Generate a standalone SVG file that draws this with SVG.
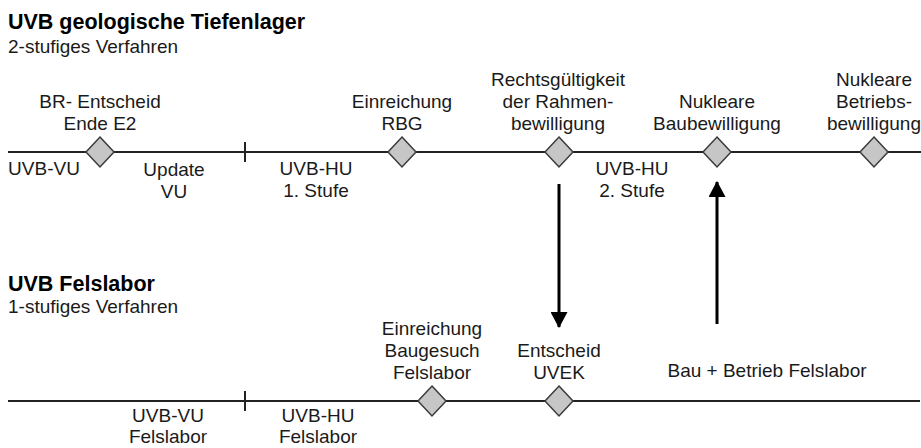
<svg xmlns="http://www.w3.org/2000/svg" width="921" height="448" viewBox="0 0 921 448">
<style>
text{font-family:"Liberation Sans",Arial,sans-serif;font-size:19px;fill:#1a1a1a}
.t{text-anchor:middle}
.h{font-weight:bold;font-size:21.5px;fill:#000}
.tl{stroke:#222;stroke-width:2;fill:none}
.tick{stroke:#222;stroke-width:2}
.dia{fill:#c6c6c6;stroke:#3a3a3a;stroke-width:1.5}
.arr{stroke:#000;stroke-width:3;fill:none}
</style>
<defs>
<marker id="ah" viewBox="0 0 16 17" refX="15" refY="8.5" markerWidth="16" markerHeight="17" markerUnits="userSpaceOnUse" orient="auto">
<path d="M0,0 L16,8.5 L0,17 Z" fill="#000"/>
</marker>
</defs>
<rect width="921" height="448" fill="#fff"/>
<g id="header-top">
<text class="h" x="8" y="29">UVB geologische Tiefenlager</text>
<text x="8" y="53">2-stufiges Verfahren</text>
</g>
<g id="header-bottom">
<text class="h" x="8" y="291">UVB Felslabor</text>
<text x="8" y="313">1-stufiges Verfahren</text>
</g>
<g id="connectors">
<line class="tl" x1="8" y1="152" x2="921" y2="152"/>
<line class="tick" x1="245" y1="142" x2="245" y2="162"/>
<line class="tl" x1="8" y1="401" x2="920" y2="401"/>
<line class="tick" x1="245" y1="391" x2="245" y2="411"/>
<line class="arr" x1="559" y1="184" x2="559" y2="327" marker-end="url(#ah)"/>
<line class="arr" x1="717" y1="324" x2="717" y2="182" marker-end="url(#ah)"/>
</g>
<g id="phase-labels">
<text class="t" x="44" y="175">UVB-VU</text>
<text class="t" x="174" y="176">Update</text>
<text class="t" x="174" y="198">VU</text>
<text class="t" x="316" y="175">UVB-HU</text>
<text class="t" x="316" y="197">1. Stufe</text>
<text class="t" x="632" y="175">UVB-HU</text>
<text class="t" x="632" y="197">2. Stufe</text>
<text class="t" x="168" y="422">UVB-VU</text>
<text class="t" x="168" y="443">Felslabor</text>
<text class="t" x="318" y="422">UVB-HU</text>
<text class="t" x="318" y="443">Felslabor</text>
<text class="t" x="767" y="377">Bau + Betrieb Felslabor</text>
</g>
<g id="m-br">
<polygon class="dia" points="100,137 114,152 100,167 86,152"/>
<text class="t" x="100" y="108">BR- Entscheid</text>
<text class="t" x="100" y="130">Ende E2</text>
</g>
<g id="m-rbg">
<polygon class="dia" points="402,137 416,152 402,167 388,152"/>
<text class="t" x="402" y="108">Einreichung</text>
<text class="t" x="402" y="130">RBG</text>
</g>
<g id="m-rahmen">
<polygon class="dia" points="559,137 573,152 559,167 545,152"/>
<text class="t" x="558" y="86">Rechtsgültigkeit</text>
<text class="t" x="558" y="108">der Rahmen-</text>
<text class="t" x="558" y="130">bewilligung</text>
</g>
<g id="m-bau">
<polygon class="dia" points="717,137 731,152 717,167 703,152"/>
<text class="t" x="717" y="108">Nukleare</text>
<text class="t" x="717" y="130">Baubewilligung</text>
</g>
<g id="m-betrieb">
<polygon class="dia" points="874,137 888,152 874,167 860,152"/>
<text class="t" x="874" y="86">Nukleare</text>
<text class="t" x="874" y="108">Betriebs-</text>
<text class="t" x="874" y="130">bewilligung</text>
</g>
<g id="m-baugesuch">
<polygon class="dia" points="432,386 446,401 432,416 418,401"/>
<text class="t" x="432" y="335">Einreichung</text>
<text class="t" x="432" y="357">Baugesuch</text>
<text class="t" x="432" y="379">Felslabor</text>
</g>
<g id="m-uvek">
<polygon class="dia" points="559,386 573,401 559,416 545,401"/>
<text class="t" x="559" y="357">Entscheid</text>
<text class="t" x="559" y="379">UVEK</text>
</g>
</svg>
